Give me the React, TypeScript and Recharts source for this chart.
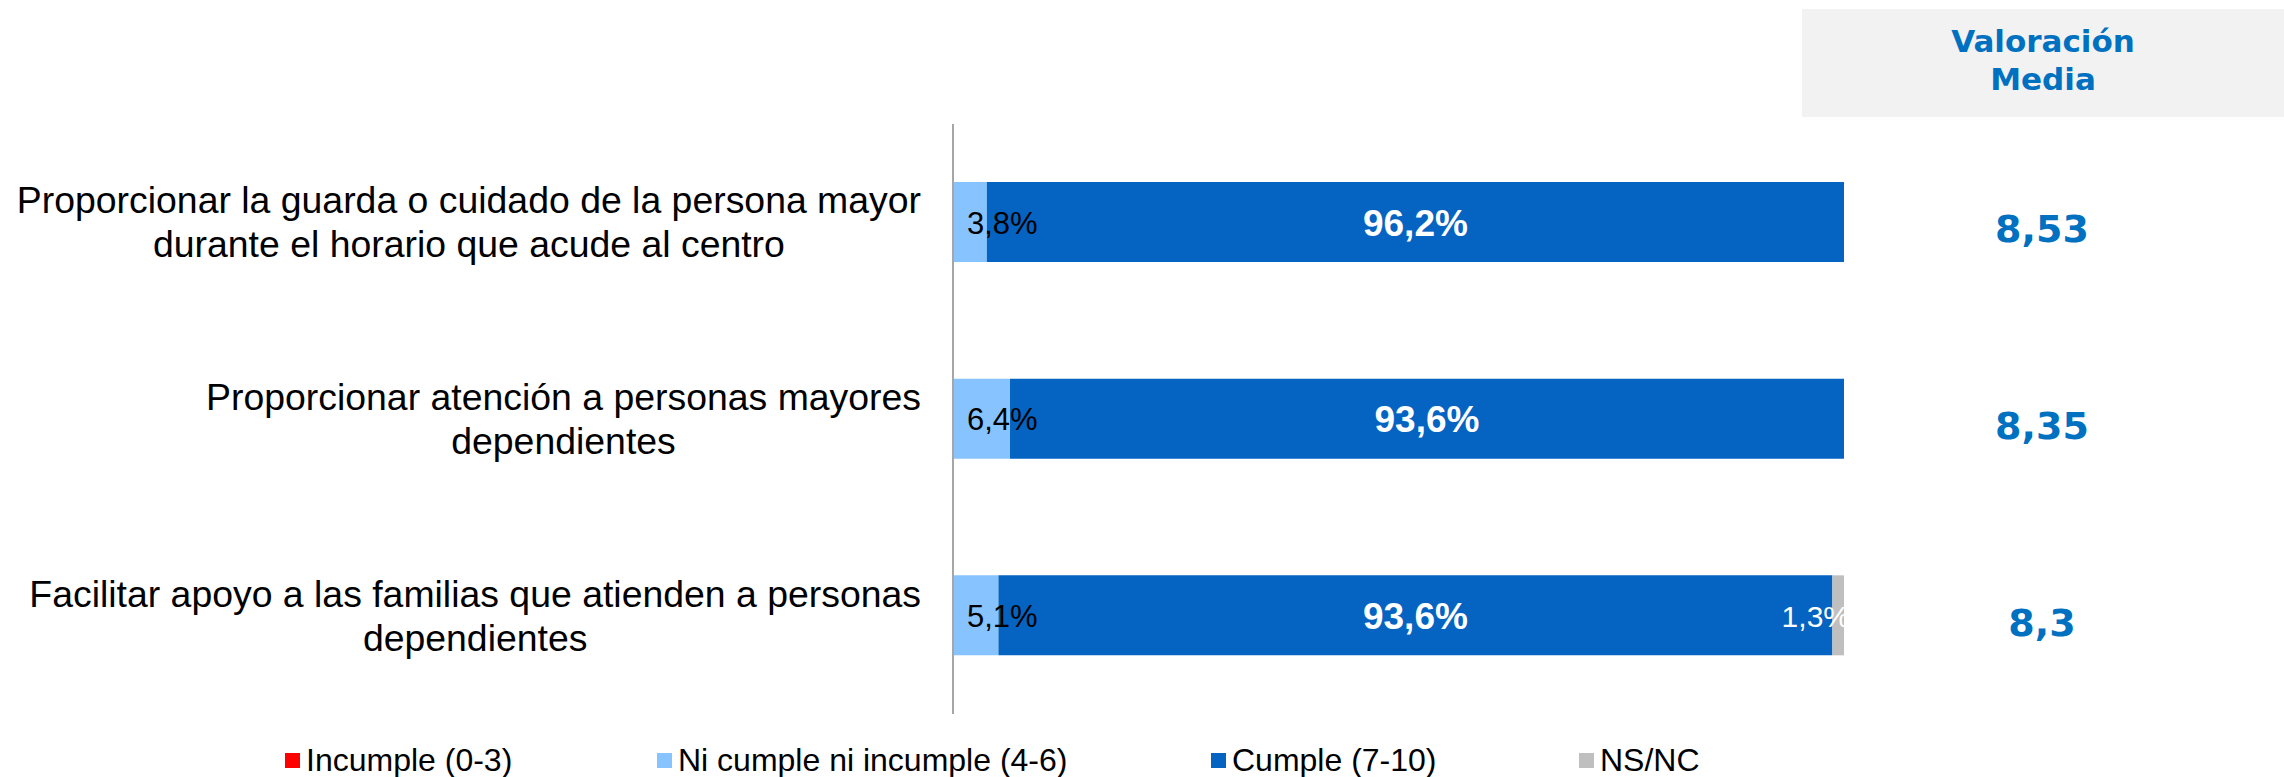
import React from 'react';
import { Bar, BarChart, LabelList, XAxis, YAxis } from 'recharts';

const CATEGORIES = [
  'Proporcionar la guarda o cuidado de la persona mayor\ndurante el horario que acude al centro',
  'Proporcionar atención a personas mayores\ndependientes',
  'Facilitar apoyo a las familias que atienden a personas\ndependientes',
];
const INCUMPLE = [0, 0, 0];
const NI_CUMPLE = [3.8, 6.4, 5.1];
const CUMPLE = [96.2, 93.6, 93.6];
const NSNC = [0, 0, 1.3];
const VALORACION = ['8,53', '8,35', '8,3'];

const SERIES = [
  { key: 'incumple', name: 'Incumple (0-3)', color: '#FF0000' },
  { key: 'ni', name: 'Ni cumple ni incumple (4-6)', color: '#87C3FF' },
  { key: 'cumple', name: 'Cumple (7-10)', color: '#0563C1' },
  { key: 'nsnc', name: 'NS/NC', color: '#BFBFBF' },
];

const W = 2284;
const H = 777;
const ARIAL = '"Liberation Sans", Arial, sans-serif';
const VERDANA = '"DejaVu Sans", Verdana, sans-serif';
const VAL_BLUE = '#0070C0';
const LEGEND_X = [285, 657, 1211, 1579];

const rows = CATEGORIES.map((name, i) => ({
  name,
  incumple: INCUMPLE[i],
  ni: NI_CUMPLE[i],
  cumple: CUMPLE[i],
  nsnc: NSNC[i],
}));

const pct = (v: number) => v.toFixed(1).replace('.', ',') + '%';

function CategoryTick({ y, payload }: any) {
  return (
    <foreignObject x={0} y={y - 60} width={921} height={120}>
      <div
        style={{
          display: 'flex',
          justifyContent: 'flex-end',
          alignItems: 'center',
          height: '100%',
        }}
      >
        <div
          style={{
            textAlign: 'center',
            whiteSpace: 'pre',
            fontFamily: ARIAL,
            fontSize: 37.4,
            lineHeight: '44px',
            color: '#000',
          }}
        >
          {payload.value}
        </div>
      </div>
    </foreignObject>
  );
}

function ValTick({ y, index }: any) {
  return (
    <text
      x={2042}
      y={y + 7}
      textAnchor="middle"
      dominantBaseline="central"
      fontFamily={VERDANA}
      fontWeight="bold"
      fontSize={38}
      fill={VAL_BLUE}
    >
      {VALORACION[index]}
    </text>
  );
}

function NiLabel({ x, y, height, value }: any) {
  if (!value) return null;
  return (
    <text
      x={x + 14}
      y={y + height / 2 + 1}
      dominantBaseline="central"
      fontFamily={ARIAL}
      fontSize={31}
      fill="#000"
    >
      {pct(value)}
    </text>
  );
}

function CumpleLabel({ x, y, width, height, value }: any) {
  if (!value) return null;
  return (
    <text
      x={x + width / 2}
      y={y + height / 2 + 1}
      textAnchor="middle"
      dominantBaseline="central"
      fontFamily={ARIAL}
      fontWeight="bold"
      fontSize={37}
      fill="#fff"
    >
      {pct(value)}
    </text>
  );
}

function NsLabel({ x, y, width, height, value }: any) {
  if (!value) return null;
  return (
    <text
      x={x + width + 6}
      y={y + height / 2 + 1}
      textAnchor="end"
      dominantBaseline="central"
      fontFamily={ARIAL}
      fontSize={30}
      fill="#fff"
    >
      {pct(value)}
    </text>
  );
}

export default function App() {
  return (
    <div
      style={{
        position: 'absolute',
        left: 0,
        top: 0,
        width: W,
        height: H,
        background: '#fff',
        overflow: 'hidden',
      }}
    >
      <BarChart
        width={W}
        height={H}
        data={rows}
        layout="vertical"
        margin={{ top: 124, right: 0, bottom: 63, left: 0 }}
      >
        <XAxis type="number" domain={[0, 100]} hide />
        <YAxis
          yAxisId="left"
          type="category"
          dataKey="name"
          width={953}
          tickLine={false}
          axisLine={{ stroke: '#A6A6A6', strokeWidth: 2 }}
          tick={<CategoryTick />}
          interval={0}
        />
        <YAxis
          yAxisId="right"
          orientation="right"
          type="category"
          dataKey="name"
          width={440}
          tickLine={false}
          axisLine={false}
          tick={<ValTick />}
          interval={0}
        />
        <Bar yAxisId="left" dataKey="incumple" name={SERIES[0].name} stackId="s" fill={SERIES[0].color} barSize={80} isAnimationActive={false} />
        <Bar yAxisId="left" dataKey="ni" name={SERIES[1].name} stackId="s" fill={SERIES[1].color} barSize={80} isAnimationActive={false}>
          <LabelList dataKey="ni" content={<NiLabel />} />
        </Bar>
        <Bar yAxisId="left" dataKey="cumple" name={SERIES[2].name} stackId="s" fill={SERIES[2].color} barSize={80} isAnimationActive={false}>
          <LabelList dataKey="cumple" content={<CumpleLabel />} />
        </Bar>
        <Bar yAxisId="left" dataKey="nsnc" name={SERIES[3].name} stackId="s" fill={SERIES[3].color} barSize={80} isAnimationActive={false}>
          <LabelList dataKey="nsnc" content={<NsLabel />} />
        </Bar>
      </BarChart>

      {/* header cell above the right-hand value column */}
      <div
        style={{
          position: 'absolute',
          left: 1802,
          top: 9,
          width: 482,
          height: 108,
          background: '#F2F2F2',
          boxSizing: 'border-box',
          paddingTop: 13,
          textAlign: 'center',
          fontFamily: VERDANA,
          fontWeight: 'bold',
          fontSize: 31,
          lineHeight: '38px',
          color: VAL_BLUE,
        }}
      >
        Valoración
        <br />
        Media
      </div>

      {/* legend */}
      {SERIES.map((s, i) => (
        <div
          key={s.key}
          style={{
            position: 'absolute',
            left: LEGEND_X[i],
            top: 740,
            height: 40,
            display: 'flex',
            alignItems: 'center',
          }}
        >
          <span style={{ width: 15, height: 15, background: s.color, marginRight: 6 }} />
          <span style={{ fontFamily: ARIAL, fontSize: 32, color: '#000' }}>{s.name}</span>
        </div>
      ))}
    </div>
  );
}
